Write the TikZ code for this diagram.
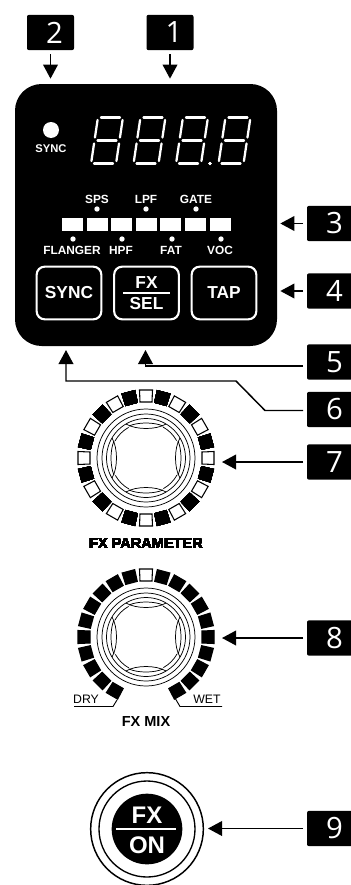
\documentclass[tikz,border=0pt]{standalone}
\usepackage{fontspec}
\setsansfont{Liberation Sans}
\newfontfamily\badgefont{Open Sans}
\usetikzlibrary{arrows.meta,calc}

\newcommand{\fsize}[1]{\fontsize{#1}{#1}\selectfont}

\tikzset{
	badge/.style={fill=black, text=white, rounded corners=1.5pt, minimum width=35.25pt, minimum height=26.5pt, inner sep=0pt, outer sep=0pt, font=\badgefont\fsize{22}, execute at begin node={\hspace{6pt}}},
	callout/.style={line width=1.1pt, -{Triangle[length=10.5pt,width=11pt]}, shorten <=3pt},
	panellabel/.style={text=white, inner sep=0pt, font=\sffamily\bfseries\fsize{8.9}},
	panelbutton/.style={draw=white, line width=1.6pt, rounded corners=6pt, minimum width=48.5pt, minimum height=39.5pt, inner sep=0pt, outer sep=0pt, text=white, font=\sffamily\bfseries\fsize{13}},
	ledbox/.style={fill=white, minimum width=15.75pt, minimum height=10.25pt, inner sep=0pt},
	knoblabel/.style={inner sep=0pt, font=\sffamily\bfseries\fsize{10.9}},
	scalelabel/.style={inner sep=0pt, font=\sffamily\fsize{9.2}},
	ring/.style={draw=black, line width=0.55pt}
}

% one digit of the display, four digits share it
\newcommand{\segdigit}[2]{
	\begin{scope}[shift={(#1,#2)}, xslant=0.15, white, line width=1.7pt, line cap=round]
		\foreach \yb in {-23,0,23}
			\draw (-9.5,\yb) -- (9.5,\yb);
		\foreach \xb in {-12.5,12.5} {
			\draw (\xb,-20.5) -- (\xb,-3);
			\draw (\xb,3) -- (\xb,20.5);
		}
	\end{scope}
}

% rings and grip of a knob
\newcommand{\knobrings}[2]{
	\begin{scope}[shift={(#1,#2)}]
		\foreach \r in {49,44,39.5}
			\draw[ring] (0,0) circle (\r*0.75pt);
		\foreach \a in {0,90,180,270} {
			\draw[ring, rotate=\a] (-20,-34) .. controls (-10,-28) and (10,-28) .. (20,-34);
			\draw[ring, rotate=\a] (-17,-32) .. controls (-8,-36) and (8,-36) .. (17,-32);
			\draw[ring, rotate=\a] (17,-31) arc[start angle=61, end angle=29, radius=35*0.75pt];
		}
	\end{scope}
}

\newcommand{\ledsquare}[4]{
	\draw[black, line width=0.8pt, fill=#4, shift={(#1,#2)}, rotate=#3] (-6.5,-68) -- (6.5,-68) -- (6,-56) -- (-6,-56) -- cycle;
}

\begin{document}
\begin{tikzpicture}[x=0.75pt, y=-0.75pt]

	\useasboundingbox (0,0) rectangle (350,885);

	\def\knobx{146}
	\def\knobAy{458}
	\def\knobBy{637}

	% Main panel
	\node[fill=black, rounded corners=20pt, minimum width=196.5pt, minimum height=196.5pt, inner sep=0pt, outer sep=0pt] (panel) at (146,215) {};

	% Display
	\foreach \dx in {107,149.5,192,234.5}
		\segdigit{\dx}{140.5}
	\fill[white] (210,163.5) circle (1.3pt);

	% Sync lamp
	\fill[white] (51,130) circle (6pt);
	\node[panellabel, font=\sffamily\bfseries\fsize{8.4}] (synclabel) at (51,149) {SYNC};

	% Effect lamps
	\foreach \i in {0,...,6}
		\node[ledbox] (fx\i) at (72.5+24.6*\i,224.5) {};
	\foreach \x/\name in {97/SPS,146/LPF,196/GATE} {
		\fill[white] (\x,209) circle (2pt);
		\node[panellabel] at (\x,199) {\name};
	}
	\foreach \x/\name in {72/FLANGER,121/HPF,171/FAT,220/VOC} {
		\fill[white] (\x+1,239) circle (2pt);
		\node[panellabel] at (\x,250) {\name};
	}

	% Buttons
	\node[panelbutton] (syncbtn) at (69,293) {SYNC};
	\node[panelbutton] (selbtn) at (146.5,293) {};
	\node[panelbutton] (tapbtn) at (224,293) {TAP};
	\node[panellabel, font=\sffamily\bfseries\fsize{13}] (fxtext) at (146.5,283) {FX};
	\node[panellabel, font=\sffamily\bfseries\fsize{13}] (seltext) at (146.5,304) {SEL};
	\draw[white, line width=0.9pt] (123,293) -- (170,293);

	% FX PARAMETER knob
	\node[circle, minimum size=102pt, inner sep=0pt, outer sep=0pt] (paramknob) at (\knobx,\knobAy) {};
	\knobrings{\knobx}{\knobAy}
	\foreach \i in {0,2,...,22}
		\ledsquare{\knobx}{\knobAy}{15*\i}{white}
	\foreach \i in {1,3,...,23}
		\ledsquare{\knobx}{\knobAy}{15*\i}{black}
	\node[knoblabel] (paramlabel) at (\knobx,543) {FX PARAMETER};

	% FX MIX knob
	\node[circle, minimum size=102pt, inner sep=0pt, outer sep=0pt] (mixknob) at (\knobx,\knobBy) {};
	\knobrings{\knobx}{\knobBy}
	\ledsquare{\knobx}{\knobBy}{0}{white}
	\foreach \i in {1,...,10} {
		\ledsquare{\knobx}{\knobBy}{15*\i}{black}
		\ledsquare{\knobx}{\knobBy}{-15*\i}{black}
	}
	\node[scalelabel] (drylabel) at (86,699) {DRY};
	\node[scalelabel] (wetlabel) at (207,699) {WET};
	\draw[line width=0.7pt] (74,706.5) -- (113,706.5) -- (117,700);
	\draw[line width=0.7pt] (175,698) -- (180,706.5) -- (222,706.5);
	\node[knoblabel] (mixlabel) at (\knobx,721) {FX MIX};

	% FX ON button
	\node[circle, draw=black, line width=1.1pt, minimum size=84.5pt, inner sep=0pt, outer sep=0pt] (onbtn) at (147,829) {};
	\draw[line width=1pt] (onbtn.center) circle (36pt);
	\fill (onbtn.center) circle (26.5pt);
	\node[text=white, inner sep=0pt, font=\sffamily\bfseries\fsize{18}] (onfx) at (147,815) {FX};
	\node[text=white, inner sep=0pt, font=\sffamily\bfseries\fsize{18}] (ontext) at (147,845) {ON};
	\draw[white, line width=1.3pt] (116,829) -- (176,829);

	% Number badges
	\node[badge] (b1) at (170,32.5) {1};
	\node[badge] (b2) at (50.5,32.5) {2};
	\node[badge] (b3) at (330.5,223.5) {3};
	\node[badge] (b4) at (330.5,291) {4};
	\node[badge] (b5) at (330.5,362) {5};
	\node[badge] (b6) at (330.5,409.5) {6};
	\node[badge] (b7) at (330.5,462) {7};
	\node[badge] (b8) at (330.5,638) {8};
	\node[badge] (b9) at (330.5,828.5) {9};

	% Callouts
	\coordinate (turn5) at (145.5,366);
	\coordinate (tip5) at (145.5,346);
	\coordinate (out6) at (265,410.5);
	\coordinate (mid6) at (236,381);
	\coordinate (turn6) at (66,381);
	\coordinate (tip6) at (66,346);

	\draw[callout, shorten >=4pt] (b1) -- (b1 |- panel.north);
	\draw[callout, shorten >=4pt] (b2) -- (b2 |- panel.north);
	\draw[callout, shorten >=2.5pt] (b3) -- (b3 -| panel.east);
	\draw[callout, shorten >=2.5pt] (b4) -- (b4 -| panel.east);
	\draw[callout, shorten >=3pt] ([yshift=-3pt]b5.west) -- (turn5) -- (tip5);
	\draw[callout, shorten >=3pt] ([yshift=-0.75pt]b6.west) -- (out6) -- (mid6) -- (turn6) -- (tip6);
	\draw[callout, shorten >=6pt] (b7) -- (b7 -| paramknob.east);
	\draw[callout, shorten >=6pt] (b8) -- (b8 -| mixknob.east);
	\draw[callout, shorten >=3.5pt] (b9) -- (b9 -| onbtn.east);

\end{tikzpicture}
\end{document}
